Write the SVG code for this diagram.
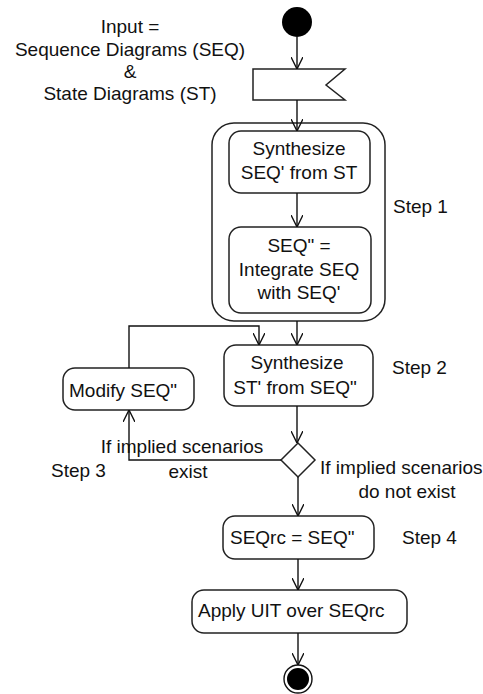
<svg xmlns="http://www.w3.org/2000/svg" width="483" height="694" viewBox="0 0 483 694">
  <style>
    .box { fill: #ffffff; stroke: #222222; stroke-width: 1.5; }
    .line { fill: none; stroke: #111111; stroke-width: 1.4; }
    .lbl { font-family: "Liberation Sans", Arial, sans-serif; font-size: 19px; fill: #111111; }
    .mid { text-anchor: middle; }
  </style>
  <defs>
    <marker id="open" viewBox="0 0 12 12" refX="12" refY="6" markerWidth="12" markerHeight="12" markerUnits="userSpaceOnUse" orient="auto">
      <path d="M0,0 L12,6 L0,12" fill="none" stroke="#111111" stroke-width="1.4"/>
    </marker>
  </defs>
  <rect width="483" height="694" fill="#ffffff"/>

  <!-- input note -->
  <g id="input-note">
    <text class="lbl mid" x="130" y="33">Input =</text>
    <text class="lbl mid" x="130" y="56">Sequence Diagrams (SEQ)</text>
    <text class="lbl mid" x="130" y="78">&amp;</text>
    <text class="lbl mid" x="130" y="100">State Diagrams (ST)</text>
  </g>

  <!-- start node -->
  <g id="start">
    <circle cx="297" cy="22" r="15" fill="#000000"/>
  </g>

  <!-- signal receipt -->
  <g id="signal">
    <polygon class="box" points="253,69 345,69 326,85 345,100 253,100"/>
  </g>

  <!-- step 1 container -->
  <g id="step1">
    <rect class="box" x="212" y="123" width="173" height="198" rx="22" ry="22"/>
    <text class="lbl" x="393" y="213">Step 1</text>
  </g>

  <g id="synth-seq">
    <rect class="box" x="229" y="131" width="141" height="62" rx="12" ry="12"/>
    <text class="lbl mid" x="299" y="155">Synthesize</text>
    <text class="lbl mid" x="299" y="179">SEQ' from ST</text>
  </g>

  <g id="integrate">
    <rect class="box" x="229" y="227" width="142" height="86" rx="12" ry="12"/>
    <text class="lbl mid" x="299" y="252">SEQ" =</text>
    <text class="lbl mid" x="299" y="276">Integrate SEQ</text>
    <text class="lbl mid" x="299" y="299">with SEQ'</text>
  </g>

  <g id="synth-st">
    <rect class="box" x="224" y="345" width="149" height="61" rx="12" ry="12"/>
    <text class="lbl mid" x="297" y="369">Synthesize</text>
    <text class="lbl mid" x="295" y="394">ST' from SEQ"</text>
    <text class="lbl" x="392" y="374">Step 2</text>
  </g>

  <g id="modify">
    <rect class="box" x="63" y="368" width="131" height="42" rx="12" ry="12"/>
    <text class="lbl" x="69" y="397">Modify SEQ"</text>
  </g>

  <g id="decision">
    <polygon class="box" points="298,443 315,460 298,477 281,460"/>
    <text class="lbl mid" x="182" y="453">If implied scenarios</text>
    <text class="lbl mid" x="188" y="478">exist</text>
    <text class="lbl" x="51" y="477">Step 3</text>
    <text class="lbl" x="320" y="474">If implied scenarios</text>
    <text class="lbl mid" x="407" y="498">do not exist</text>
  </g>

  <g id="seqrc">
    <rect class="box" x="223" y="516" width="151" height="43" rx="12" ry="12"/>
    <text class="lbl" x="230" y="544">SEQrc = SEQ"</text>
    <text class="lbl" x="402" y="544">Step 4</text>
  </g>

  <g id="apply-uit">
    <rect class="box" x="192" y="590" width="215" height="43" rx="12" ry="12"/>
    <text class="lbl" x="198" y="617">Apply UIT over SEQrc</text>
  </g>

  <!-- final node -->
  <g id="end">
    <circle cx="298" cy="679" r="14" fill="#ffffff" stroke="#111111" stroke-width="1.4"/>
    <circle cx="298" cy="679" r="11" fill="#000000"/>
  </g>

  <!-- control flow -->
  <g id="connectors">
    <path class="line" d="M297,37 L297,69" marker-end="url(#open)"/>
    <path class="line" d="M297,100 L297,131" marker-end="url(#open)"/>
    <path class="line" d="M297,193 L297,227" marker-end="url(#open)"/>
    <path class="line" d="M297,321 L297,345" marker-end="url(#open)"/>
    <path class="line" d="M129,368 L129,326 L259,326 L259,345" marker-end="url(#open)"/>
    <path class="line" d="M297,406 L297,443" marker-end="url(#open)"/>
    <path class="line" d="M281,460 L129,460 L129,410" marker-end="url(#open)"/>
    <path class="line" d="M298,477 L298,516" marker-end="url(#open)"/>
    <path class="line" d="M298,559 L298,590" marker-end="url(#open)"/>
    <path class="line" d="M298,633 L298,665" marker-end="url(#open)"/>
  </g>
</svg>
